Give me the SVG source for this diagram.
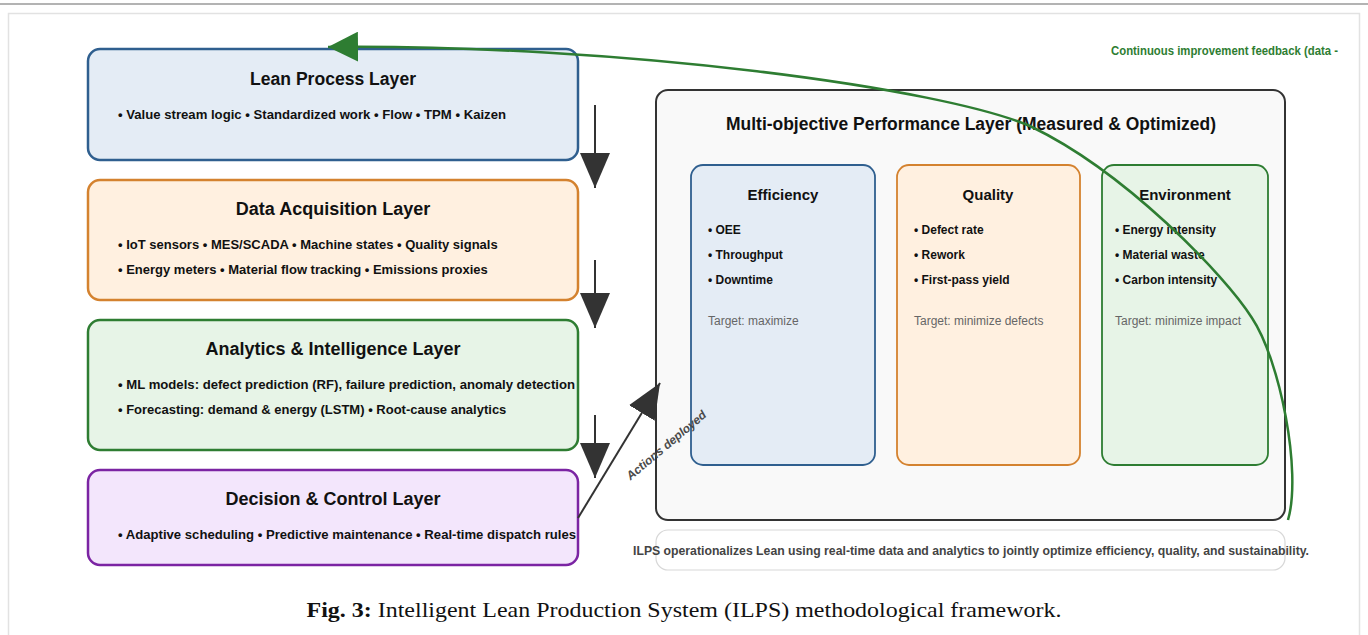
<svg xmlns="http://www.w3.org/2000/svg" width="1368" height="635" viewBox="0 0 1368 635">
  <defs>
    <marker id="head-dark" markerUnits="userSpaceOnUse" viewBox="0 0 35 30" refX="35" refY="15" markerWidth="35" markerHeight="30" orient="auto">
      <path d="M0,0 L35,15 L0,30 Z" fill="#333"/>
    </marker>
    <marker id="head-green" markerUnits="userSpaceOnUse" viewBox="0 0 30 30" refX="30" refY="15" markerWidth="30" markerHeight="30" orient="auto">
      <path d="M0,0 L30,15 L0,30 Z" fill="#2e7d32"/>
    </marker>
    <style>
      text { font-family: "Liberation Sans", Arial, sans-serif; }
      text.caption { font-family: "Liberation Serif", "Times New Roman", serif; font-size: 21px; fill: #111; text-anchor: middle; }
      .layer { stroke-width: 2.5; }
      .layer-title { font-size: 18px; font-weight: bold; fill: #111; text-anchor: middle; }
      .layer-item { font-size: 13px; font-weight: bold; fill: #111; }
      .lean { fill: #e4ecf5; stroke: #2f5f8f; }
      .data { fill: #fff0e0; stroke: #d4822f; }
      .analytics { fill: #e7f4e7; stroke: #2e7d32; }
      .decision { fill: #f3e6fc; stroke: #7b24a3; }
      .obj { stroke-width: 1.8; }
      .obj-title { font-size: 15px; font-weight: bold; fill: #111; text-anchor: middle; }
      .obj-item { font-size: 12px; font-weight: bold; fill: #111; }
      .obj-target { font-size: 12px; fill: #666; }
      .flow { stroke: #333; stroke-width: 2; fill: none; marker-end: url(#head-dark); }
      .feedback { stroke: #2e7d32; stroke-width: 2.5; fill: none; marker-end: url(#head-green); }
    </style>
  </defs>

  <!-- page background and frame -->
  <rect x="0" y="0" width="1368" height="635" fill="#ffffff"/>
  <line x1="0" y1="4" x2="1368" y2="4" stroke="#9a9a9a" stroke-width="1.5"/>
  <rect x="8.5" y="13.5" width="1351" height="640" fill="#ffffff" stroke="#e2e2e2" stroke-width="1.5"/>

  <!-- left stack of layers -->
  <g id="lean-process-layer">
    <rect class="layer lean" x="88" y="49" width="490" height="111" rx="12"/>
    <text class="layer-title" x="333" y="85" textLength="166" lengthAdjust="spacingAndGlyphs">Lean Process Layer</text>
    <text class="layer-item" x="118" y="119" textLength="388" lengthAdjust="spacingAndGlyphs">• Value stream logic • Standardized work • Flow • TPM • Kaizen</text>
  </g>

  <g id="data-acquisition-layer">
    <rect class="layer data" x="88" y="180" width="490" height="120" rx="12"/>
    <text class="layer-title" x="333" y="215">Data Acquisition Layer</text>
    <text class="layer-item" x="118" y="249">• IoT sensors • MES/SCADA • Machine states • Quality signals</text>
    <text class="layer-item" x="118" y="274">• Energy meters • Material flow tracking • Emissions proxies</text>
  </g>

  <g id="analytics-layer">
    <rect class="layer analytics" x="88" y="320" width="490" height="130" rx="12"/>
    <text class="layer-title" x="333" y="355">Analytics &amp; Intelligence Layer</text>
    <text class="layer-item" x="118" y="389" textLength="457" lengthAdjust="spacingAndGlyphs">• ML models: defect prediction (RF), failure prediction, anomaly detection</text>
    <text class="layer-item" x="118" y="414">• Forecasting: demand &amp; energy (LSTM) • Root-cause analytics</text>
  </g>

  <g id="decision-layer">
    <rect class="layer decision" x="88" y="470" width="490" height="95" rx="12"/>
    <text class="layer-title" x="333" y="505">Decision &amp; Control Layer</text>
    <text class="layer-item" x="118" y="539" textLength="458" lengthAdjust="spacingAndGlyphs">• Adaptive scheduling • Predictive maintenance • Real-time dispatch rules</text>
  </g>

  <!-- performance panel -->
  <g id="performance-layer">
    <rect x="656" y="90" width="629" height="430" rx="12" fill="#f9f9f9" stroke="#333" stroke-width="2"/>
    <text class="layer-title" x="971" y="130" textLength="490" lengthAdjust="spacingAndGlyphs">Multi-objective Performance Layer (Measured &amp; Optimized)</text>
  </g>

  <g id="efficiency">
    <rect class="obj lean" x="691" y="165" width="184" height="300" rx="12"/>
    <text class="obj-title" x="783" y="200">Efficiency</text>
    <text class="obj-item" x="708" y="234">• OEE</text>
    <text class="obj-item" x="708" y="259">• Throughput</text>
    <text class="obj-item" x="708" y="284">• Downtime</text>
    <text class="obj-target" x="708" y="325">Target: maximize</text>
  </g>

  <g id="quality">
    <rect class="obj data" x="897" y="165" width="183" height="300" rx="12"/>
    <text class="obj-title" x="988" y="200">Quality</text>
    <text class="obj-item" x="914" y="234">• Defect rate</text>
    <text class="obj-item" x="914" y="259">• Rework</text>
    <text class="obj-item" x="914" y="284">• First-pass yield</text>
    <text class="obj-target" x="914" y="325">Target: minimize defects</text>
  </g>

  <g id="environment">
    <rect class="obj analytics" x="1102" y="165" width="166" height="300" rx="12"/>
    <text class="obj-title" x="1185" y="200">Environment</text>
    <text class="obj-item" x="1115" y="234">• Energy intensity</text>
    <text class="obj-item" x="1115" y="259">• Material waste</text>
    <text class="obj-item" x="1115" y="284">• Carbon intensity</text>
    <text class="obj-target" x="1115" y="325">Target: minimize impact</text>
  </g>

  <g id="summary-note">
    <rect x="656" y="530" width="629" height="40" rx="12" fill="#ffffff" stroke="#d8d8d8" stroke-width="1.2"/>
    <text x="971" y="555" text-anchor="middle" font-size="12" font-weight="bold" fill="#444" textLength="676" lengthAdjust="spacingAndGlyphs">ILPS operationalizes Lean using real-time data and analytics to jointly optimize efficiency, quality, and sustainability.</text>
  </g>

  <!-- connectors -->
  <g id="connectors">
    <line class="flow" x1="595" y1="105" x2="595" y2="188"/>
    <line class="flow" x1="595" y1="260" x2="595" y2="328"/>
    <line class="flow" x1="595" y1="415" x2="595" y2="478"/>
    <line class="flow" x1="578" y1="518" x2="660" y2="383"/>
    <text x="667" y="449" transform="rotate(-40 667 446)" text-anchor="middle" font-size="12" font-weight="bold" font-style="italic" fill="#4a4a4a">Actions deployed</text>
    <path class="feedback" d="M1288,520 C1302,472 1280,360 1252,318 C1225,275 1125,172 1032,127 C945,88 620,44 328,47"/>
    <text x="1111" y="55" font-size="12" font-weight="bold" fill="#2e7d32" textLength="227" lengthAdjust="spacingAndGlyphs">Continuous improvement feedback (data -</text>
  </g>

  <!-- caption -->
  <text class="caption" x="684" y="617" textLength="755" lengthAdjust="spacingAndGlyphs"><tspan font-weight="bold">Fig. 3:</tspan> Intelligent Lean Production System (ILPS) methodological framework.</text>
</svg>
